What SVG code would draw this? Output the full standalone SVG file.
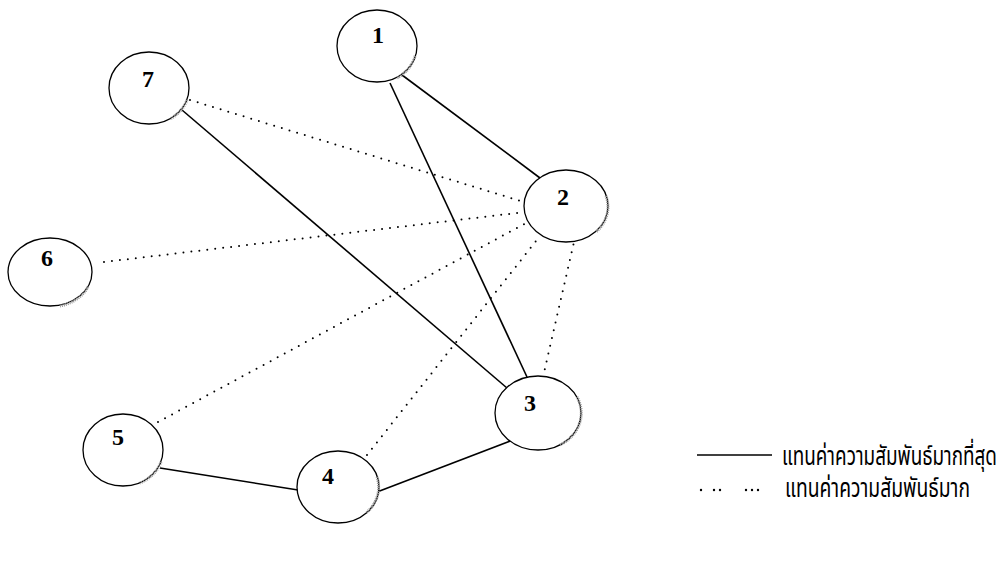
<svg xmlns="http://www.w3.org/2000/svg" width="1005" height="568" viewBox="0 0 1005 568">
<style>
.node ellipse{fill:#fff;stroke:#000;stroke-width:1.3}
.shade{fill:none;stroke:#999;stroke-width:3;stroke-dasharray:1 1}
.lbl{font-family:"Liberation Serif",serif;font-weight:bold;font-size:24px;text-anchor:middle}
.solid{stroke:#000;stroke-width:1.6;fill:none}
.dot{stroke:#000;stroke-width:2;stroke-dasharray:0 8;stroke-linecap:round;fill:none}
.leg{font-family:"Noto Sans Thai","Noto Sans","DejaVu Sans",sans-serif;font-size:26px}
</style>
<rect width="1005" height="568" fill="#fff"/>
<g id="connectors">
<line class="solid" x1="402" y1="75" x2="540" y2="178"/>
<line class="solid" x1="390" y1="83" x2="527" y2="377"/>
<line class="solid" x1="182" y1="110" x2="507" y2="388"/>
<line class="solid" x1="160" y1="468" x2="298" y2="490"/>
<line class="solid" x1="377" y1="492" x2="513" y2="440"/>
<line class="dot" x1="190" y1="100" x2="527" y2="203"/>
<line class="dot" x1="104" y1="262" x2="525" y2="212"/>
<line class="dot" x1="158" y1="422" x2="528" y2="222"/>
<line class="dot" x1="367" y1="455" x2="540" y2="236"/>
<line class="dot" x1="543" y1="377" x2="574" y2="242"/>
</g>
<g id="node1" class="node"><ellipse cx="377" cy="46" rx="40" ry="36"/><path class="shade" d="M415 56 A40 36 0 0 1 397 78"/><text class="lbl" x="378" y="43">1</text></g>
<g id="node2" class="node"><ellipse cx="566" cy="206" rx="42" ry="36"/><path class="shade" d="M606 196 A42 36 0 0 1 596 232"/><text class="lbl" x="563" y="205">2</text></g>
<g id="node3" class="node"><ellipse cx="538" cy="413" rx="43" ry="37"/><path class="shade" d="M577 397 A43 37 0 0 1 560 445"/><text class="lbl" x="530" y="411">3</text></g>
<g id="node4" class="node"><ellipse cx="338" cy="487" rx="41" ry="36"/><path class="shade" d="M377 477 A41 36 0 0 1 366 513"/><text class="lbl" x="328" y="484">4</text></g>
<g id="node5" class="node"><ellipse cx="123" cy="450" rx="40" ry="36"/><path class="shade" d="M161 462 A40 36 0 0 1 140 483"/><text class="lbl" x="118" y="445">5</text></g>
<g id="node6" class="node"><ellipse cx="50" cy="272" rx="42" ry="34"/><path class="shade" d="M88 287 A42 34 0 0 1 60 306"/><text class="lbl" x="47" y="266">6</text></g>
<g id="node7" class="node"><ellipse cx="149" cy="88" rx="40" ry="36"/><path class="shade" d="M187 100 A40 36 0 0 1 170 119"/><text class="lbl" x="148" y="87">7</text></g>
<g id="legend">
<line class="solid" x1="697" y1="455" x2="772" y2="455" style="stroke-width:1.3"/>
<text class="leg" x="782" y="465" textLength="215" lengthAdjust="spacingAndGlyphs">แทนค่าความสัมพันธ์มากที่สุด</text>
<g fill="#000"><circle cx="701" cy="490" r="1.2"/><circle cx="714" cy="490" r="1.2"/><circle cx="720" cy="490" r="1.2"/><circle cx="746" cy="490" r="1.2"/><circle cx="752" cy="490" r="1.2"/><circle cx="758" cy="490" r="1.2"/></g>
<text class="leg" x="785" y="497" textLength="185" lengthAdjust="spacingAndGlyphs">แทนค่าความสัมพันธ์มาก</text>
</g>
</svg>
